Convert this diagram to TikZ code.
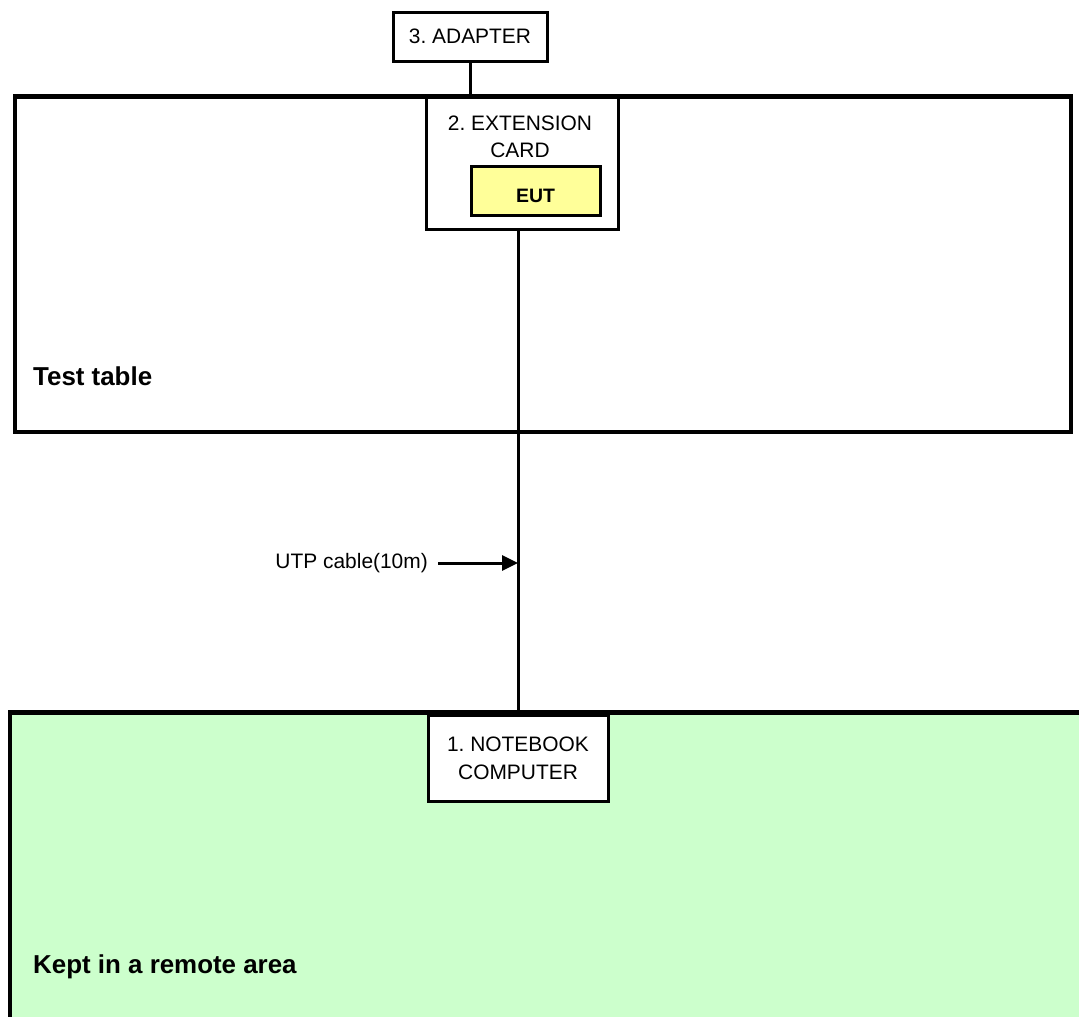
\documentclass[tikz,border=0pt]{standalone}
\usepackage{fontspec}
\setmainfont{Liberation Sans}
\usetikzlibrary{arrows.meta}
\definecolor{eutyellow}{HTML}{FFFF99}
\definecolor{remotegreen}{HTML}{CCFFCC}
\frenchspacing
\begin{document}
\begin{tikzpicture}[x=1bp,y=-1bp,
  area/.style={draw, line width=4.5bp, inner sep=0pt},
  unit/.style={draw, fill=white, line width=3bp, inner sep=0pt, align=center, font=\fontsize{21}{28}\selectfont},
  wire/.style={line width=3bp},
  tag/.style={anchor=base west, inner sep=0pt, font=\fontsize{26}{30}\selectfont\bfseries}]
\useasboundingbox (0,0) rectangle (1079,1017);
\fill[white] (0,0) rectangle (1079,1017);
\node[area, fill=white, minimum width=1056bp, minimum height=335.5bp] (table) at (543,264.25){};
\node[area, fill=remotegreen, minimum width=1090bp, minimum height=330bp] (remote) at (555,877.5){};
\node[unit, minimum width=154bp, minimum height=49bp] (adapter) at (470,36.5){3. ADAPTER};
\node[unit, minimum width=192bp, minimum height=132bp] (card) at (522,163){};
\node[align=center, inner sep=0pt, font=\fontsize{21}{27}\selectfont] (cardlbl) at (520,137){2. EXTENSION\\CARD};
\node[unit, fill=eutyellow, font=\fontsize{19.5}{24}\selectfont\bfseries, text height=25bp, minimum width=129bp, minimum height=49bp] (eut) at (535.5,190.5){EUT};
\node[unit, minimum width=180bp, minimum height=86bp] (notebook) at (518,758){1. NOTEBOOK\\COMPUTER};
\node[tag] (tabletag) at (33,385){Test table};
\node[tag] (remotetag) at (33,973){Kept in a remote area};
\node[anchor=east, inner xsep=10bp, inner ysep=0pt, font=\fontsize{21}{24}\selectfont] (utp) at (438,563){UTP cable(10m)};
\draw[wire] (adapter.south) -- (adapter.south |- table.north);
\draw[wire] (notebook.north) -- (notebook.north |- card.south);
\draw[wire, -{Triangle[length=16bp, width=15bp]}] (utp.east) -- (utp.east -| notebook.north);
\end{tikzpicture}
\end{document}
